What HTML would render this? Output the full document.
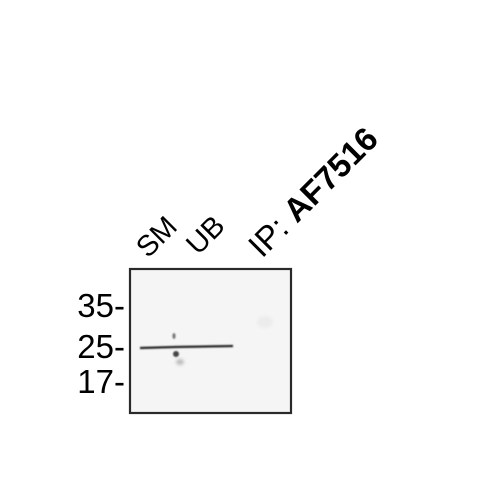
<!DOCTYPE html>
<html><head><meta charset="utf-8"><style>body{margin:0;background:#fff}svg{display:block}</style></head>
<body>
<svg width="500" height="500" viewBox="0 0 500 500" font-family="Liberation Sans, Arial, sans-serif">
<defs>
<filter id="blur1"><feGaussianBlur stdDeviation="0.8"/></filter>
<filter id="blur2"><feGaussianBlur stdDeviation="1.6"/></filter>
</defs>
<rect x="130" y="269" width="161" height="144" fill="#f5f5f5" stroke="#2a2a2a" stroke-width="2.2"/>
<g filter="url(#blur1)">
<path d="M140 348 L175 347 L205 346.5 L233 346" stroke="#222" stroke-width="2.2" fill="none"/>
<ellipse cx="174" cy="336" rx="1.6" ry="3" fill="#777"/>
<ellipse cx="176" cy="354" rx="3" ry="3" fill="#444"/>
</g>
<g filter="url(#blur2)">
<ellipse cx="180" cy="362" rx="4" ry="3" fill="#bbb"/>
<ellipse cx="265" cy="322" rx="8" ry="6" fill="#ececec"/>
</g>
<g font-size="33" fill="#000" text-anchor="end">
<text x="125" y="317">35-</text>
<text x="125" y="358">25-</text>
<text x="125" y="393">17-</text>
</g>
<g font-size="29" fill="#000">
<text transform="translate(148,259) rotate(-45)">SM</text>
<text transform="translate(198,256) rotate(-45)">UB</text>
<text transform="translate(262,259) rotate(-45)" font-size="33">IP: <tspan font-weight="bold">AF7516</tspan></text>
</g>
</svg>
</body></html>
